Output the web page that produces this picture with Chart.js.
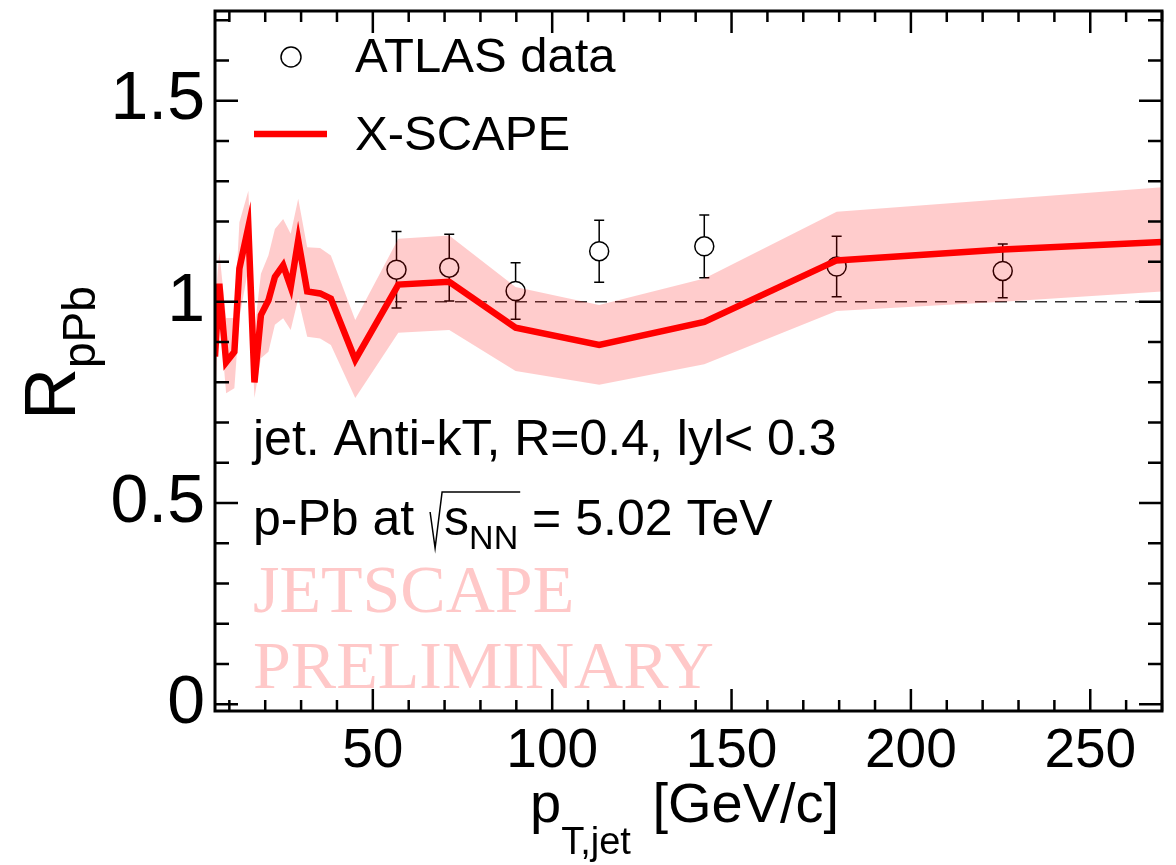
<!DOCTYPE html>
<html lang="en">
<head>
<meta charset="UTF-8">
<title>RpPb vs pT,jet</title>
<script src="https://cdn.jsdelivr.net/npm/chart.js"></script>
<style>
  html, body { margin: 0; padding: 0; background: #fff; }
</style>
</head>
<body>
<canvas id="myChart" width="1176" height="865"></canvas>
<script>
// ATLAS data (open circles)
const atlasPt = [56.6, 71.3, 89.8, 113.1, 142.4, 179.3, 225.6]
const atlasR = [1.08, 1.085, 1.027, 1.126, 1.138, 1.088, 1.077]
const atlasErr = [0.095, 0.083, 0.07, 0.077, 0.078, 0.075, 0.067]

// X-SCAPE curve and its band
const modelPt = [6, 7.2, 9.1, 11.4, 12.8, 15.3, 17.0, 18.8, 20.9, 22.7, 25.0, 27.1, 29.2, 31.7, 35.3, 38.3, 45.1, 57.1, 71.3, 89.8, 113.1, 142.4, 179.3, 225.6, 270]
const modelR = [0.864, 1.045, 0.85, 0.876, 1.083, 1.186, 0.80, 0.967, 1.004, 1.062, 1.091, 1.037, 1.153, 1.026, 1.021, 1.008, 0.856, 1.043, 1.05, 0.936, 0.893, 0.95, 1.103, 1.13, 1.149]
const modelHi = [0.99, 1.124, 0.96, 0.96, 1.198, 1.276, 0.93, 1.07, 1.116, 1.181, 1.206, 1.169, 1.256, 1.136, 1.134, 1.115, 0.955, 1.157, 1.165, 1.037, 0.992, 1.058, 1.224, 1.255, 1.285]
const modelLo = [0.76, 0.975, 0.773, 0.785, 0.96, 1.083, 0.761, 0.86, 0.876, 0.943, 0.959, 0.93, 1.008, 0.913, 0.909, 0.893, 0.761, 0.923, 0.93, 0.828, 0.794, 0.845, 0.977, 1.0, 1.026]

// axes
const xMin = 6, xMax = 270
const yMin = -0.017, yMax = 1.723
const xTickLabels = [50, 100, 150, 200, 250]
const yTickLabels = [0, 0.5, 1, 1.5]

const FONT = "'Liberation Sans', Arial, Helvetica, sans-serif"
const SERIF = "'Liberation Serif', 'Times New Roman', serif"
const circleR = 9.5

const pairs = (xs, ys) => xs.map((x, i) => ({ x: x, y: ys[i] }))

// draws text with a lowered, smaller part; returns end x
function subText(ctx, x, y, main, sub, size, subSize, drop) {
    ctx.font = size + 'px ' + FONT
    ctx.fillText(main, x, y)
    x += ctx.measureText(main).width
    ctx.font = subSize + 'px ' + FONT
    ctx.fillText(sub, x, y + drop)
    return x + ctx.measureText(sub).width
}

const extras = {
    id: 'extras',
    afterDatasetDraw(chart, args) {
        if (args.index !== 1) return
        const { ctx, scales: { x, y } } = chart
        ctx.save()
        ctx.strokeStyle = '#000'
        ctx.lineWidth = 1.5
        atlasPt.forEach((pt, i) => {
            const px = x.getPixelForValue(pt)
            const pc = y.getPixelForValue(atlasR[i])
            const hi = y.getPixelForValue(atlasR[i] + atlasErr[i])
            const lo = y.getPixelForValue(atlasR[i] - atlasErr[i])
            ctx.beginPath()
            ctx.moveTo(px, hi); ctx.lineTo(px, pc - circleR)
            ctx.moveTo(px, pc + circleR); ctx.lineTo(px, lo)
            ctx.moveTo(px - 5, hi); ctx.lineTo(px + 5, hi)
            ctx.moveTo(px - 5, lo); ctx.lineTo(px + 5, lo)
            ctx.stroke()
        })
        ctx.restore()
    },
    afterDraw(chart) {
        const { ctx, chartArea: a, scales: { x, y } } = chart
        ctx.save()
        // frame
        ctx.strokeStyle = '#000'
        ctx.lineWidth = 3
        ctx.strokeRect(a.left, a.top, a.right - a.left, a.bottom - a.top)
        // inward ticks, all four sides
        ctx.lineWidth = 2.5
        ctx.beginPath()
        for (let v = 10; v <= xMax; v += 10) {
            const px = x.getPixelForValue(v)
            const len = xTickLabels.includes(v) ? 22 : 11
            ctx.moveTo(px, a.bottom); ctx.lineTo(px, a.bottom - len)
            ctx.moveTo(px, a.top); ctx.lineTo(px, a.top + len)
        }
        for (let k = 0; k <= 17; k++) {
            const v = k / 10
            const py = y.getPixelForValue(v)
            const len = k % 5 === 0 ? 23 : 14
            ctx.moveTo(a.left, py); ctx.lineTo(a.left + len, py)
            ctx.moveTo(a.right, py); ctx.lineTo(a.right - len, py)
        }
        ctx.stroke()

        ctx.fillStyle = '#000'
        ctx.textAlign = 'left'
        ctx.textBaseline = 'alphabetic'

        // legend
        ctx.lineWidth = 1.5
        ctx.beginPath()
        ctx.arc(291, 57, 10, 0, Math.PI * 2)
        ctx.stroke()
        ctx.strokeStyle = 'rgb(255,0,0)'
        ctx.lineWidth = 6.5
        ctx.beginPath()
        ctx.moveTo(254, 134); ctx.lineTo(327, 134)
        ctx.stroke()
        ctx.font = '49px ' + FONT
        ctx.fillText('ATLAS data', 355, 72)
        ctx.fillText('X-SCAPE', 355, 150)

        // labels in the plot
        ctx.font = '50px ' + FONT
        ctx.fillText('jet. Anti-kT, R=0.4, lyl< 0.3', 253, 455)
        let tx = 253
        ctx.fillText('p-Pb at ', tx, 535)
        tx += ctx.measureText('p-Pb at ').width
        const rx = tx + 2
        tx += 16
        const sEnd = subText(ctx, tx, 535, 's', 'NN', 50, 34, 14)
        ctx.strokeStyle = '#000'
        ctx.lineWidth = 1.5
        ctx.beginPath()
        ctx.moveTo(rx, 512)
        ctx.lineTo(rx + 5, 548)
        ctx.lineTo(rx + 12, 492)
        ctx.lineTo(sEnd + 2, 492)
        ctx.stroke()
        ctx.font = '50px ' + FONT
        ctx.fillText(' = 5.02 TeV', sEnd, 535)

        ctx.fillStyle = 'rgb(255,200,200)'
        ctx.font = '68px ' + SERIF
        ctx.fillText('JETSCAPE', 253, 612)
        ctx.fillText('PRELIMINARY', 253, 688)

        // axis titles
        ctx.fillStyle = '#000'
        const xe = subText(ctx, 530, 822, 'p', 'T,jet', 56, 38, 32)
        ctx.font = '56px ' + FONT
        ctx.fillText(' [GeV/c]', xe + 6, 822)

        ctx.translate(75, 420)
        ctx.rotate(-Math.PI / 2)
        subText(ctx, 0, 0, 'R', 'pPb', 72, 46, 20)
        ctx.restore()
    }
}

const data = {
    datasets: [
        {
            // reference line at 1
            data: [{ x: xMin, y: 1 }, { x: xMax, y: 1 }],
            borderColor: '#333',
            borderWidth: 1.5,
            borderDash: [12, 8],
            pointRadius: 0,
            order: 5
        },
        {
            label: 'ATLAS data',
            data: pairs(atlasPt, atlasR),
            showLine: false,
            pointRadius: circleR,
            pointBorderWidth: 1.5,
            pointBorderColor: '#000',
            pointBackgroundColor: 'rgba(0,0,0,0)',
            order: 4
        },
        {
            data: pairs(modelPt, modelHi),
            borderWidth: 0,
            borderColor: 'rgba(0,0,0,0)',
            backgroundColor: 'rgba(255,0,0,0.2)',
            fill: '+1',
            pointRadius: 0,
            order: 3
        },
        {
            data: pairs(modelPt, modelLo),
            borderWidth: 0,
            borderColor: 'rgba(0,0,0,0)',
            fill: false,
            pointRadius: 0,
            order: 3
        },
        {
            label: 'X-SCAPE',
            data: pairs(modelPt, modelR),
            borderColor: 'rgb(255,0,0)',
            borderWidth: 6.5,
            pointRadius: 0,
            tension: 0,
            order: 1
        }
    ]
}

const config = {
    type: 'line',
    data: data,
    options: {
        responsive: false,
        animation: false,
        layout: { padding: { left: 0, top: 8, right: 14, bottom: 0 } },
        plugins: { legend: { display: false }, tooltip: { enabled: false } },
        scales: {
            x: {
                type: 'linear',
                min: xMin,
                max: xMax,
                afterBuildTicks: s => { s.ticks = xTickLabels.map(v => ({ value: v })) },
                afterFit: s => { s.height = 154; s.paddingLeft = 0; s.paddingRight = 0 },
                grid: { display: false, drawTicks: false },
                border: { display: false },
                ticks: {
                    padding: 8,
                    color: '#000',
                    maxRotation: 0,
                    font: { family: FONT, size: 55 }
                }
            },
            y: {
                type: 'linear',
                min: yMin,
                max: yMax,
                afterBuildTicks: s => { s.ticks = yTickLabels.map(v => ({ value: v })) },
                afterFit: s => { s.width = 215; s.paddingTop = 0; s.paddingBottom = 0 },
                grid: { display: false, drawTicks: false },
                border: { display: false },
                ticks: {
                    padding: 10,
                    color: '#000',
                    font: { family: FONT, size: 68 },
                    callback: v => String(v)
                }
            }
        }
    },
    plugins: [extras]
}

window.rppb_chart = new Chart(document.getElementById('myChart'), config)
</script>
</body>
</html>
